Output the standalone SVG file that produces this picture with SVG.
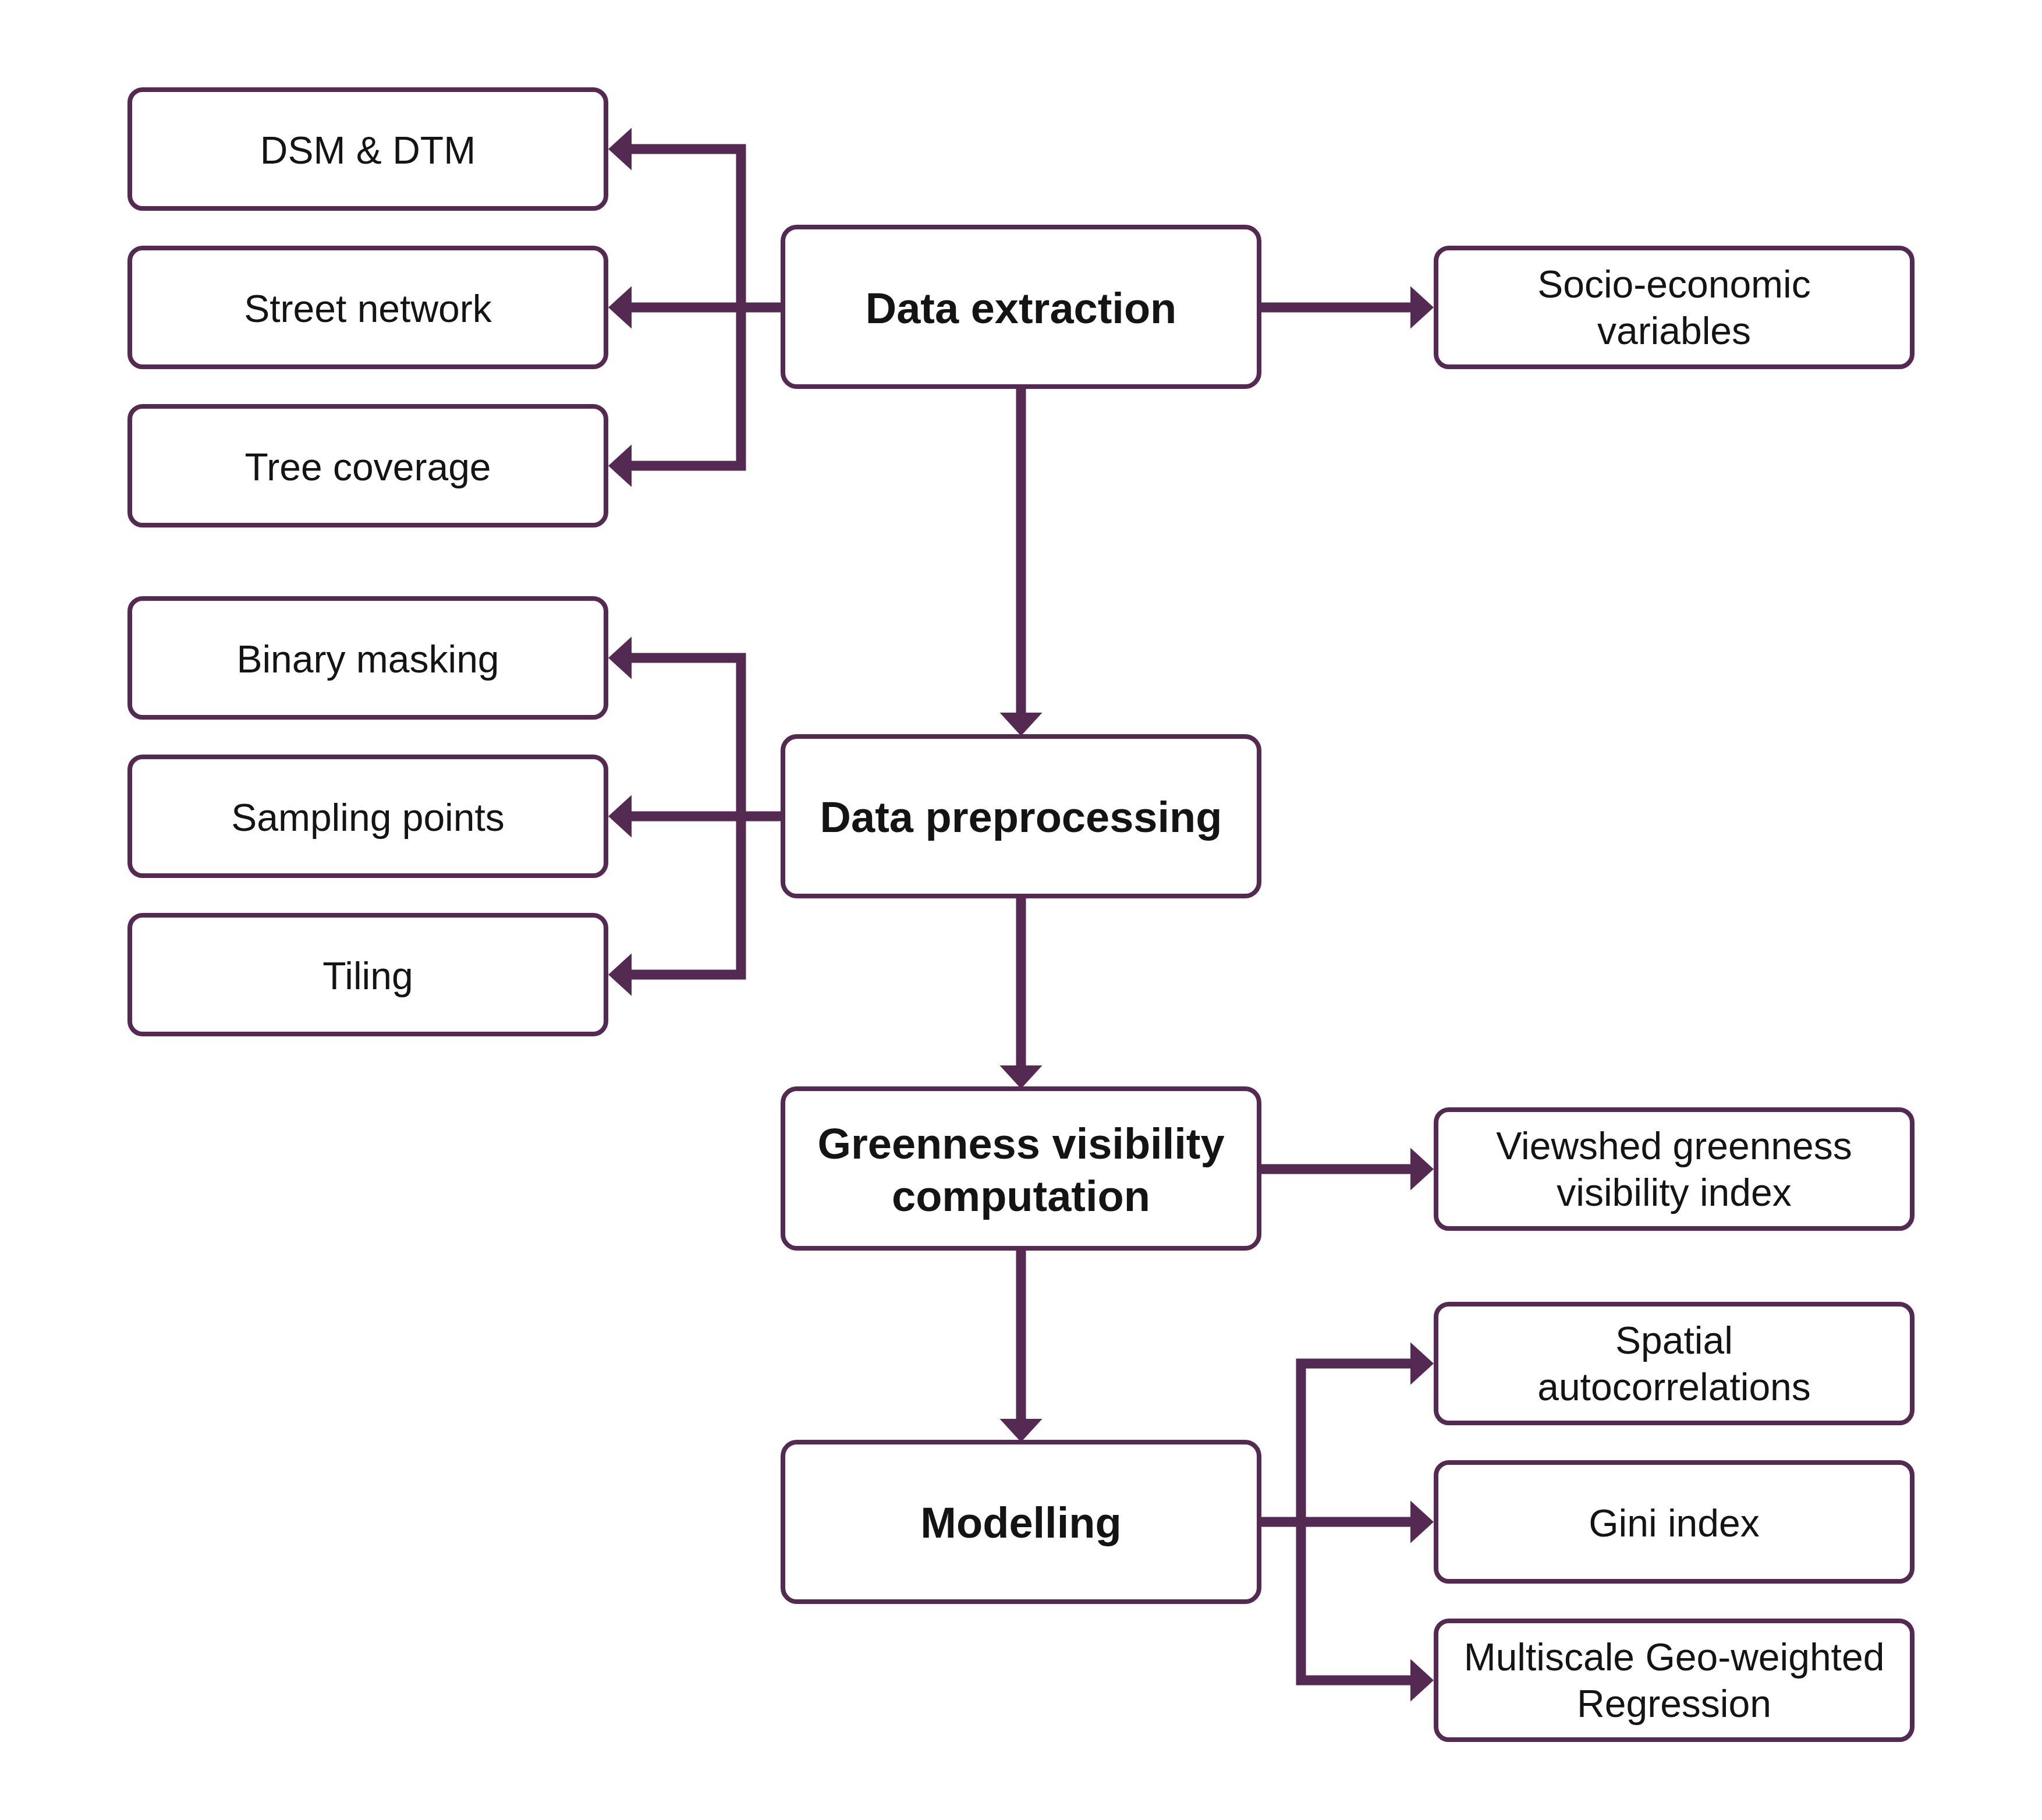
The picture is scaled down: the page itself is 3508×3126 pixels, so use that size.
<svg xmlns="http://www.w3.org/2000/svg" width="3508" height="3126" viewBox="0 0 3508 3126">
<style>
.box{fill:#ffffff;stroke:#542a52;stroke-width:8}
.ln{fill:none;stroke:#542a52;stroke-width:17;stroke-linejoin:miter;stroke-linecap:butt}
.hd{fill:#542a52;stroke:none}
.t{font-family:"Liberation Sans",Arial,sans-serif;font-size:66px;fill:#141414;text-anchor:middle}
.b{font-family:"Liberation Sans",Arial,sans-serif;font-size:74px;font-weight:bold;fill:#141414;text-anchor:middle}
</style>
<defs>
<polygon id="aL" class="hd" points="0,0 40,-36.5 40,36.5"/>
<polygon id="aR" class="hd" points="0,0 -40,-36.5 -40,36.5"/>
<polygon id="aD" class="hd" points="0,0 -36.5,-40 36.5,-40"/>
</defs>
<rect width="3508" height="3126" fill="#ffffff"/>
<g id="connectors">
<path class="ln" d="M1345,528 H1273 M1085,256 H1273 V800 H1085 M1085,528 H1273"/>
<use href="#aL" x="1045" y="256"/>
<use href="#aL" x="1045" y="528"/>
<use href="#aL" x="1045" y="800"/>
<path class="ln" d="M2163,528 H2425"/>
<use href="#aR" x="2463" y="528"/>
<path class="ln" d="M1754,664 V1226"/>
<use href="#aD" x="1754" y="1264"/>
<path class="ln" d="M1345,1402 H1273 M1085,1130 H1273 V1674 H1085 M1085,1402 H1273"/>
<use href="#aL" x="1045" y="1130"/>
<use href="#aL" x="1045" y="1402"/>
<use href="#aL" x="1045" y="1674"/>
<path class="ln" d="M1754,1539 V1832"/>
<use href="#aD" x="1754" y="1870"/>
<path class="ln" d="M2163,2008 H2425"/>
<use href="#aR" x="2463" y="2008"/>
<path class="ln" d="M1754,2144 V2439"/>
<use href="#aD" x="1754" y="2477"/>
<path class="ln" d="M2163,2614 H2235 M2425,2342 H2235 V2886 H2425 M2235,2614 H2425"/>
<use href="#aR" x="2463" y="2342"/>
<use href="#aR" x="2463" y="2614"/>
<use href="#aR" x="2463" y="2886"/>
</g>
<g id="dsm"><rect class="box" x="223" y="154" width="818" height="204" rx="22"/><text class="t" x="632" y="281">DSM &amp; DTM</text></g>
<g id="street"><rect class="box" x="223" y="426" width="818" height="204" rx="22"/><text class="t" x="632" y="553">Street network</text></g>
<g id="tree"><rect class="box" x="223" y="698" width="818" height="204" rx="22"/><text class="t" x="632" y="825">Tree coverage</text></g>
<g id="extraction"><rect class="box" x="1345" y="390" width="818" height="274" rx="24"/><text class="b" x="1754" y="555">Data extraction</text></g>
<g id="socio"><rect class="box" x="2467" y="426" width="818" height="204" rx="22"/><text class="t" x="2876" y="511">Socio-economic</text><text class="t" x="2876" y="591">variables</text></g>
<g id="binary"><rect class="box" x="223" y="1028" width="818" height="204" rx="22"/><text class="t" x="632" y="1155">Binary masking</text></g>
<g id="sampling"><rect class="box" x="223" y="1300" width="818" height="204" rx="22"/><text class="t" x="632" y="1427">Sampling points</text></g>
<g id="tiling"><rect class="box" x="223" y="1572" width="818" height="204" rx="22"/><text class="t" x="632" y="1699">Tiling</text></g>
<g id="preprocessing"><rect class="box" x="1345" y="1265" width="818" height="274" rx="24"/><text class="b" x="1754" y="1429">Data preprocessing</text></g>
<g id="greenness"><rect class="box" x="1345" y="1870" width="818" height="274" rx="24"/><text class="b" x="1754" y="1990">Greenness visibility</text><text class="b" x="1754" y="2080">computation</text></g>
<g id="viewshed"><rect class="box" x="2467" y="1906" width="818" height="204" rx="22"/><text class="t" x="2876" y="1991">Viewshed greenness</text><text class="t" x="2876" y="2071">visibility index</text></g>
<g id="modelling"><rect class="box" x="1345" y="2477" width="818" height="274" rx="24"/><text class="b" x="1754" y="2641">Modelling</text></g>
<g id="spatial"><rect class="box" x="2467" y="2240" width="818" height="204" rx="22"/><text class="t" x="2876" y="2325">Spatial</text><text class="t" x="2876" y="2405">autocorrelations</text></g>
<g id="gini"><rect class="box" x="2467" y="2512" width="818" height="204" rx="22"/><text class="t" x="2876" y="2639">Gini index</text></g>
<g id="mgwr"><rect class="box" x="2467" y="2784" width="818" height="204" rx="22"/><text class="t" x="2876" y="2869">Multiscale Geo-weighted</text><text class="t" x="2876" y="2949">Regression</text></g>
</svg>
